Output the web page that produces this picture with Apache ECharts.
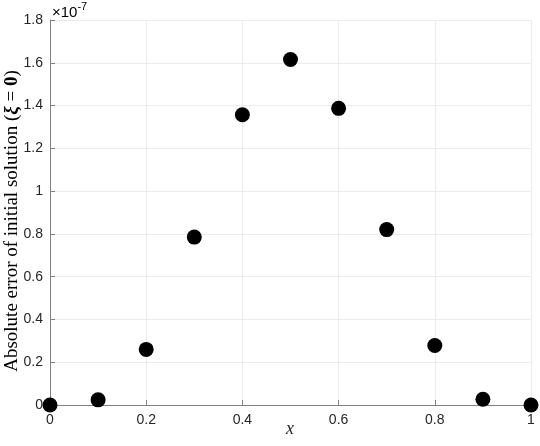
<!DOCTYPE html>
<html>
<head>
<meta charset="UTF-8">
<title>Absolute error of initial solution</title>
<script src="https://cdn.jsdelivr.net/npm/echarts@6/dist/echarts.min.js"></script>
<style>
  body { margin: 0; background: #fff; }
  #chart { width: 540px; height: 446px; }
</style>
</head>
<body>
<div id="chart"></div>
<script>
  // x positions and the error values (in units of 1e-7)
  const xs = [0, 0.1, 0.2, 0.3, 0.4, 0.5, 0.6, 0.7, 0.8, 0.9, 1];
  const errors = [0, 0.024, 0.260, 0.785, 1.357, 1.615, 1.387, 0.820, 0.278, 0.027, 0];
  const yTicks = [0, 0.2, 0.4, 0.6, 0.8, 1, 1.2, 1.4, 1.6, 1.8];

  const chart = echarts.init(document.getElementById('chart'));
  const labelColor = '#262626';
  const tickFont = 'Liberation Sans, Arial, sans-serif';
  const serif = 'Liberation Serif, DejaVu Serif, serif';

  const option = {
    animation: false,
    grid: { left: 50, right: 9, top: 20, bottom: 41, outerBoundsMode: 'none', containLabel: false },
    xAxis: {
      type: 'value',
      min: 0, max: 1, interval: 0.2,
      axisLine: { lineStyle: { color: '#808080', width: 1 } },
      axisTick: { inside: true, length: 5, lineStyle: { color: '#808080' } },
      axisLabel: { color: labelColor, fontSize: 14, fontFamily: tickFont, margin: 8,
        formatter: v => String(Math.round(v * 10) / 10) },
      splitLine: { show: true, lineStyle: { color: '#ebebeb' } }
    },
    yAxis: {
      type: 'value',
      min: 0, max: 1.8, interval: 0.2,
      axisLine: { show: true, lineStyle: { color: '#808080', width: 1 } },
      axisTick: { show: true, inside: true, length: 5, lineStyle: { color: '#808080' } },
      axisLabel: { color: labelColor, fontSize: 14, fontFamily: tickFont, margin: 7,
        formatter: v => {
          const t = yTicks.find(k => Math.abs(k - v) < 1e-9);
          return String(t !== undefined ? t : Math.round(v * 10) / 10);
        } },
      splitLine: { show: true, lineStyle: { color: '#ebebeb' } }
    },
    graphic: [{
      type: 'text',
      left: 52, top: 1,
      style: {
        text: '{m|×10}{s|-7}',
        rich: {
          m: { fontFamily: tickFont, fontSize: 15, color: labelColor, verticalAlign: 'bottom', lineHeight: 19 },
          s: { fontFamily: tickFont, fontSize: 11, color: labelColor, verticalAlign: 'top', lineHeight: 19, padding: [0, 0, 8, 0] }
        }
      }
    }, {
      // x-axis title
      type: 'text',
      x: 290, y: 429,
      style: {
        text: 'x',
        align: 'center',
        verticalAlign: 'middle',
        fontFamily: serif, fontStyle: 'italic', fontSize: 18, fill: labelColor
      }
    }, {
      // y-axis title, rotated
      type: 'text',
      x: 12, y: 221,
      rotation: Math.PI / 2,
      style: {
        text: '{n|Absolute error of initial solution (}{g|ξ}{n| = }{b|0}{n|)}',
        align: 'center',
        verticalAlign: 'middle',
        rich: {
          n: { fontFamily: serif, fontSize: 19, color: labelColor },
          g: { fontFamily: serif, fontSize: 19, fontWeight: 'bold', fontStyle: 'italic', color: labelColor },
          b: { fontFamily: serif, fontSize: 19, fontWeight: 'bold', color: labelColor }
        }
      }
    }],
    series: [{
      type: 'scatter',
      data: xs.map((x, i) => [x, errors[i]]),
      symbol: 'circle',
      symbolSize: 15,
      clip: false,
      z: 10,
      itemStyle: { color: '#000', opacity: 1 }
    }]
  };

  chart.setOption(option);
</script>
</body>
</html>
